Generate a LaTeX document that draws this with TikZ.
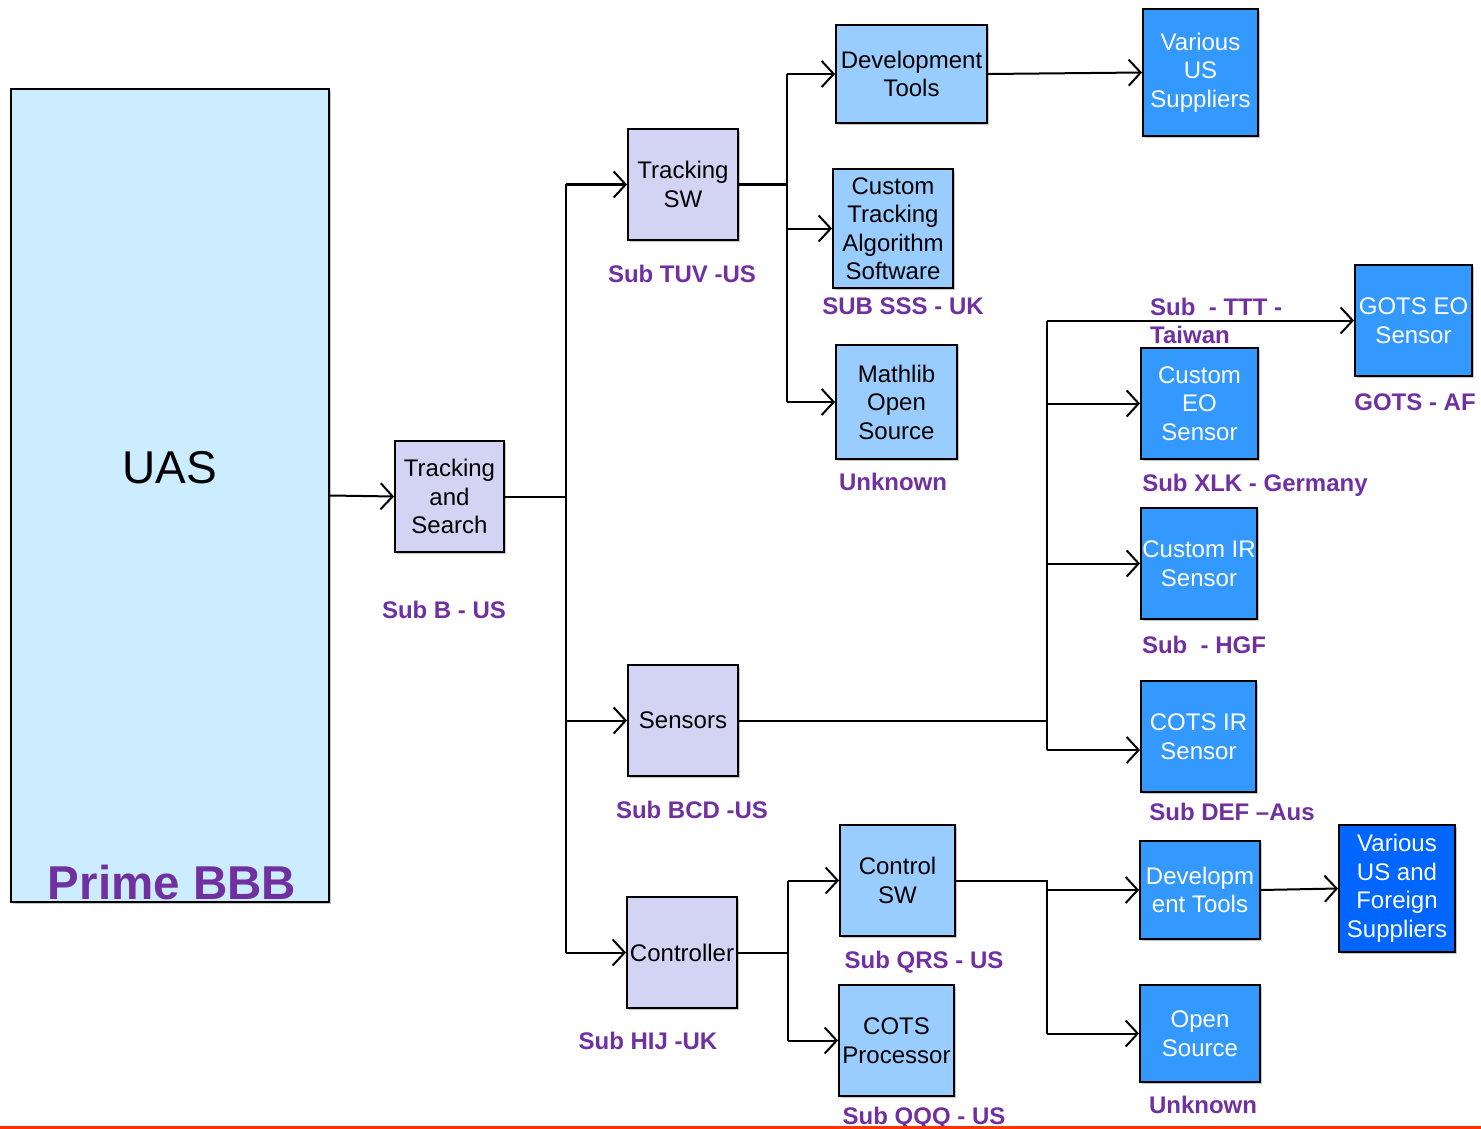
\documentclass[tikz,border=0pt]{standalone}
\usepackage{fontspec}
\setmainfont{Liberation Sans}
\usetikzlibrary{arrows.meta,shadows}
\definecolor{uasfill}{HTML}{CCECFF}
\definecolor{lavender}{HTML}{D3D3F3}
\definecolor{lightblue}{HTML}{99CCFF}
\definecolor{midblue}{HTML}{3399FF}
\definecolor{deepblue}{HTML}{0066FF}
\definecolor{labelpurple}{HTML}{7030A0}
\definecolor{rulered}{HTML}{FF3300}
\tikzset{
  box/.style={draw=black, line width=1.9pt, align=center, inner sep=0pt,
    font=\fontsize{24}{28.5}\selectfont,
    drop shadow={shadow xshift=2pt, shadow yshift=-2pt, fill=black!45, opacity=0.5}},
  subbox/.style={box, fill=lavender},
  lbox/.style={box, fill=lightblue},
  mbox/.style={box, fill=midblue, text=white},
  dbox/.style={box, fill=deepblue, text=white},
  tag/.style={text=labelpurple, font=\bfseries\fontsize{24}{28.5}\selectfont, inner sep=0pt},
  wire/.style={line width=2pt},
  arr/.style={wire, -{Straight Barb[length=12pt, width=26pt, line width=2pt]}},
}
\begin{document}
\begin{tikzpicture}[x=1pt, y=-1pt]
\useasboundingbox (0,0) rectangle (1481,1129);

% prime contractor block
\node[box, fill=uasfill, minimum width=318, minimum height=813] (uas) at (170,495.5) {};
\node[font=\fontsize{46}{50}\selectfont, inner sep=0pt] (uastxt) at (170,468) {UAS};
\node[text=labelpurple, font=\bfseries\fontsize{47.5}{50}\selectfont, inner sep=0pt] (prime) at (172,883) {Prime BBB};

% subsystem level
\node[subbox, minimum width=109, minimum height=111] (ts) at (449.5,496.5) {Tracking\\and\\Search};
\node[subbox, minimum width=110, minimum height=111] (tsw) at (683,184.5) {Tracking\\SW};
\node[subbox, minimum width=110, minimum height=111] (sens) at (683,720.5) {Sensors};
\node[subbox, minimum width=110, minimum height=111] (ctrl) at (682,952.5) {Controller};

% tracking software items
\node[lbox, minimum width=151, minimum height=98] (dev1) at (911.5,74) {Development\\Tools};
\node[lbox, minimum width=120, minimum height=119] (cta) at (893,228.5) {Custom\\Tracking\\Algorithm\\Software};
\node[lbox, minimum width=121, minimum height=114] (math) at (896.5,402) {Mathlib\\Open\\Source};
\node[mbox, minimum width=115, minimum height=127] (vus) at (1200.5,72.5) {Various\\US\\Suppliers};

% sensor items
\node[mbox, minimum width=117, minimum height=111] (gots) at (1413.5,320.5) {GOTS EO\\Sensor};
\node[mbox, minimum width=117, minimum height=111] (ceo) at (1199.5,403.5) {Custom\\EO\\Sensor};
\node[mbox, minimum width=116, minimum height=111] (cir) at (1199,563.5) {Custom IR\\Sensor};
\node[mbox, minimum width=115, minimum height=111] (cotsir) at (1198.5,736.5) {COTS IR\\Sensor};

% controller items
\node[lbox, minimum width=115, minimum height=111] (csw) at (897.5,880.5) {Control\\SW};
\node[lbox, minimum width=115, minimum height=111] (cpu) at (896.5,1040.5) {COTS\\Processor};
\node[mbox, minimum width=120, minimum height=98] (dev2) at (1200,890) {Developm\\ent Tools};
\node[mbox, minimum width=120, minimum height=97] (os) at (1200,1033.5) {Open\\Source};
\node[dbox, minimum width=116, minimum height=127] (vusf) at (1397,888.5) {Various\\US and\\Foreign\\Suppliers};

% supplier tags
\node[tag] (t1) at (444,610) {Sub B - US};
\node[tag] (t2) at (682,274) {Sub TUV -US};
\node[tag] (t3) at (903,306) {SUB SSS - UK};
\node[tag] (t4) at (893,482) {Unknown};
\node[tag, anchor=west, align=left] (t5) at (1150,321) {Sub\ \ - TTT -\\Taiwan};
\node[tag] (t6) at (1415,402) {GOTS - AF};
\node[tag] (t7) at (1255,485) {Sub XLK - Germany};
\node[tag] (t8) at (1204,645) {Sub\ \ - HGF};
\node[tag] (t9) at (1232,812) {Sub DEF –Aus};
\node[tag] (t10) at (692,810) {Sub BCD -US};
\node[tag] (t11) at (924,962) {Sub QRS - US};
\node[tag] (t12) at (648,1041) {Sub HIJ -UK};
\node[tag] (t13) at (924,1118) {Sub QQQ - US};
\node[tag] (t14) at (1203,1105) {Unknown};

% bus junctions
\coordinate (b1) at (566,496.5);
\coordinate (b2) at (787,184.5);
\coordinate (b3) at (1047,720.5);
\coordinate (b4) at (788,952.5);
\coordinate (b5) at (1047,880.5);
\coordinate (b5d) at (1047,890);

% connectors
\draw[arr] (uas.east) -- (ts.west);

\draw[wire] (ts.east) -- (b1);
\draw[wire] (b1 |- tsw.west) -- (b1 |- ctrl.west);
\draw[arr] (b1 |- tsw.west) -- (tsw.west);
\draw[arr] (b1 |- sens.west) -- (sens.west);
\draw[arr] (b1 |- ctrl.west) -- (ctrl.west);

\draw[wire] (tsw.east) -- (b2);
\draw[wire] (b2 |- dev1.west) -- (b2 |- math.west);
\draw[arr] (b2 |- dev1.west) -- (dev1.west);
\draw[arr] (b2 |- cta.west) -- (cta.west);
\draw[arr] (b2 |- math.west) -- (math.west);
\draw[arr] (dev1.east) -- (vus.west);

\draw[wire] (sens.east) -- (b3);
\draw[wire] (b3 |- gots.west) -- ([yshift=-13.5pt]b3 |- cotsir.west);
\draw[arr] (b3 |- gots.west) -- (gots.west);
\draw[arr] (b3 |- ceo.west) -- (ceo.west);
\draw[arr] (b3 |- cir.west) -- (cir.west);
\draw[arr] ([yshift=-13.5pt]b3 |- cotsir.west) -- ([yshift=-13.5pt]cotsir.west);

\draw[wire] (ctrl.east) -- (b4);
\draw[wire] (b4 |- csw.west) -- (b4 |- cpu.west);
\draw[arr] (b4 |- csw.west) -- (csw.west);
\draw[arr] (b4 |- cpu.west) -- (cpu.west);

\draw[wire] (csw.east) -- (b5) -- (b5 |- os.west);
\draw[arr] (b5d) -- (dev2.west);
\draw[arr] (b5 |- os.west) -- (os.west);
\draw[arr] (dev2.east) -- (vusf.west);

% footer rule
\draw[rulered, line width=2.5pt] (0,1127.5) -- (1481,1127.5);
\end{tikzpicture}
\end{document}
